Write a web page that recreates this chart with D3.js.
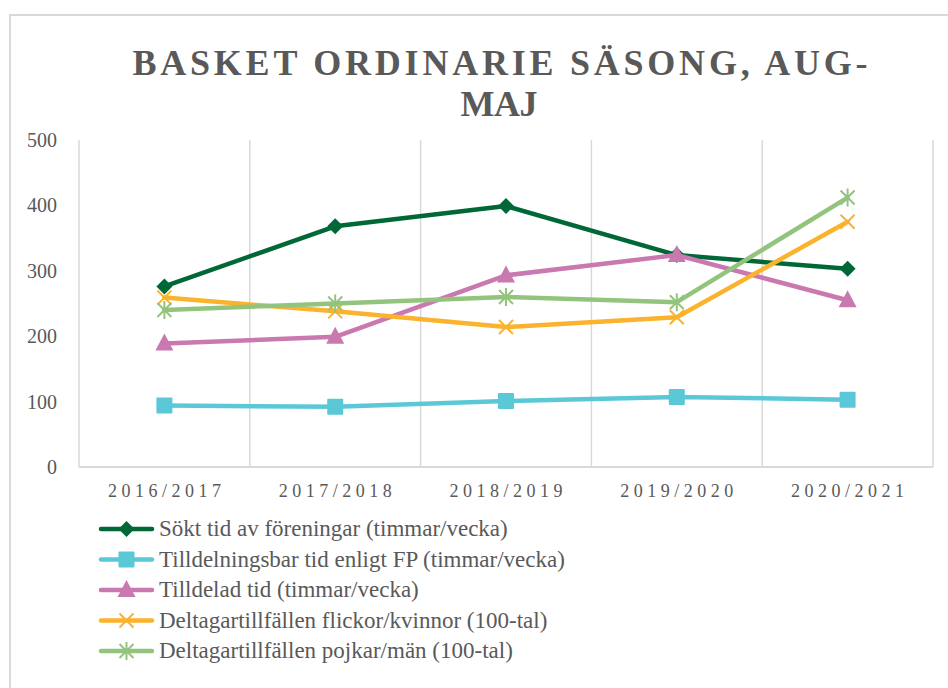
<html>
<head>
<meta charset="utf-8">
<script src="https://d3js.org/d3.v7.min.js"></script>
<style>
body { margin: 0; background: #fff; }
text { font-family: "Liberation Serif", "Times New Roman", serif; fill: #595959; }
</style>
</head>
<body>
<svg width="948" height="688"></svg>
<script>
// chart data
var seasons = ["2016/2017", "2017/2018", "2018/2019", "2019/2020", "2020/2021"];
var seriesNames = [
  "Sökt tid av föreningar (timmar/vecka)",
  "Tilldelningsbar tid enligt FP (timmar/vecka)",
  "Tilldelad tid (timmar/vecka)",
  "Deltagartillfällen flickor/kvinnor (100-tal)",
  "Deltagartillfällen pojkar/män (100-tal)"
];
var soktTid = [276, 368, 399, 324, 303];
var tilldelningsbar = [94, 92, 101, 107, 103];
var tilldeladTid = [189, 199, 293, 324, 255];
var flickor = [259, 238, 214, 229, 375];
var pojkar = [240, 250, 260, 252, 412];
var yTicks = [0, 100, 200, 300, 400, 500];

var colors = ["#006837", "#5bc8d8", "#c978b0", "#fbb22c", "#93c47d"];
var shapes = ["diamond", "square", "triangle", "x", "star"];
var allSeries = [soktTid, tilldelningsbar, tilldeladTid, flickor, pojkar];

var svg = d3.select("svg");
var plotLeft = 79, plotRight = 933, plotTop = 140, plotBottom = 467;

// chart border
svg.append("rect").attr("x", 10).attr("y", 15).attr("width", 960).attr("height", 700)
  .attr("fill", "none").attr("stroke", "#d9d9d9").attr("stroke-width", 2);

// title
var title = svg.append("g").attr("font-weight", "bold").attr("font-size", 36);
title.append("text").attr("x", 500).attr("y", 75).attr("text-anchor", "middle")
  .attr("textLength", 735).attr("lengthAdjust", "spacing")
  .text("BASKET ORDINARIE SÄSONG, AUG-");
title.append("text").attr("x", 499).attr("y", 116).attr("text-anchor", "middle")
  .attr("textLength", 77).attr("lengthAdjust", "spacing")
  .text("MAJ");

var x = d3.scaleBand().domain(seasons).range([plotLeft, plotRight]);
var y = d3.scaleLinear().domain([0, 500]).range([plotBottom, plotTop]);

// vertical gridlines
var bounds = [0, 1, 2, 3, 4, 5];
svg.append("g").selectAll("line").data(bounds).enter().append("line")
  .attr("x1", function(d) { return plotLeft + d * x.bandwidth(); })
  .attr("x2", function(d) { return plotLeft + d * x.bandwidth(); })
  .attr("y1", plotTop).attr("y2", plotBottom)
  .attr("stroke", "#d9d9d9").attr("stroke-width", 1.5);

// x axis line
svg.append("line").attr("x1", plotLeft).attr("x2", plotRight).attr("y1", plotBottom).attr("y2", plotBottom)
  .attr("stroke", "#d9d9d9").attr("stroke-width", 2);

// y labels
svg.append("g").selectAll("text").data(yTicks).enter().append("text")
  .attr("x", 57).attr("y", function(d) { return y(d); })
  .attr("dy", "0.35em").attr("text-anchor", "end").attr("font-size", 20)
  .text(function(d) { return d; });

// x labels
svg.append("g").selectAll("text").data(seasons).enter().append("text")
  .attr("x", function(d) { return x(d) + x.bandwidth() / 2; })
  .attr("y", 497).attr("text-anchor", "middle").attr("font-size", 18)
  .attr("textLength", 113).attr("lengthAdjust", "spacing")
  .text(function(d) { return d; });

function drawMarker(g, shape, color, cx, cy) {
  if (shape == "diamond") {
    g.append("path").attr("d", "M" + cx + "," + (cy - 8) + "L" + (cx + 8) + "," + cy + "L" + cx + "," + (cy + 8) + "L" + (cx - 8) + "," + cy + "Z")
      .attr("fill", color);
  } else if (shape == "square") {
    g.append("rect").attr("x", cx - 8).attr("y", cy - 8).attr("width", 16).attr("height", 16)
      .attr("rx", 1).attr("fill", color);
  } else if (shape == "triangle") {
    g.append("path").attr("d", "M" + cx + "," + (cy - 10) + "L" + (cx + 9) + "," + (cy + 7) + "L" + (cx - 9) + "," + (cy + 7) + "Z")
      .attr("fill", color);
  } else if (shape == "x") {
    g.append("path").attr("d", "M" + (cx - 7) + "," + (cy - 7) + "L" + (cx + 7) + "," + (cy + 7) + "M" + (cx + 7) + "," + (cy - 7) + "L" + (cx - 7) + "," + (cy + 7))
      .attr("stroke", color).attr("stroke-width", 2);
  } else {
    g.append("path").attr("d", "M" + (cx - 7) + "," + (cy - 7) + "L" + (cx + 7) + "," + (cy + 7) + "M" + (cx + 7) + "," + (cy - 7) + "L" + (cx - 7) + "," + (cy + 7) + "M" + cx + "," + (cy - 9) + "L" + cx + "," + (cy + 9))
      .attr("stroke", color).attr("stroke-width", 2);
  }
}

var line = d3.line()
  .x(function(d, i) { return x(seasons[i]) + x.bandwidth() / 2; })
  .y(function(d) { return y(d); });

allSeries.forEach(function(vals, s) {
  var g = svg.append("g");
  g.append("path").datum(vals).attr("d", line)
    .attr("fill", "none").attr("stroke", colors[s]).attr("stroke-width", 4.5)
    .attr("stroke-linejoin", "round").attr("stroke-linecap", "round");
  vals.forEach(function(v, i) {
    drawMarker(g, shapes[s], colors[s], x(seasons[i]) + x.bandwidth() / 2, y(v));
  });
});

// legend
var legY = d3.scaleLinear().domain([0, 4]).range([529, 651]);
seriesNames.forEach(function(name, s) {
  var g = svg.append("g");
  var cy = legY(s);
  g.append("line").attr("x1", 101).attr("x2", 152).attr("y1", cy).attr("y2", cy)
    .attr("stroke", colors[s]).attr("stroke-width", 4.5).attr("stroke-linecap", "round");
  drawMarker(g, shapes[s], colors[s], 126.5, cy);
  g.append("text").attr("x", 159).attr("y", cy).attr("dy", "0.32em")
    .attr("font-size", 23).text(name);
});
</script>
</body>
</html>
